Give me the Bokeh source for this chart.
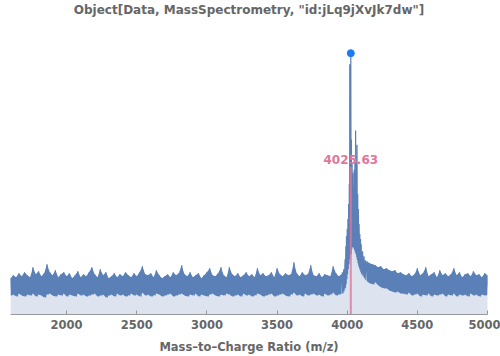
import numpy as np
from bokeh.plotting import figure
from bokeh.models import Range1d, ColumnDataSource
from bokeh.core.properties import value
from bokeh.embed import file_html
from bokeh.resources import INLINE

# ---- data ----
left_mz = np.arange(1600, 3961, 20)
left_hi = [3600, 3900, 3700, 4100, 3800, 4200, 3900, 3700, 4700, 4000,
           4300, 3800, 4100, 5000, 4200, 3900, 4400, 3700, 4000, 4200,
           3800, 4100, 3600, 3900, 4300, 3700, 4000, 3800, 4200, 4700,
           4000, 3700, 4500, 3900, 4200, 3600, 3800, 4100, 3700, 4000,
           3800, 4200, 3900, 3700, 4100, 3800, 4200, 4800, 4000, 3900,
           4100, 3700, 4400, 3900, 3600, 3800, 4000, 3700, 4200, 3900,
           4100, 4900, 4000, 3800, 4200, 3700, 3900, 4100, 3600, 3900,
           4200, 4600, 3900, 3800, 4100, 4700, 3900, 3700, 4700, 4000,
           3800, 4100, 3700, 3900, 4200, 3800, 4000, 3700, 4600, 3900,
           4100, 3800, 3900, 4200, 3700, 4600, 4000, 3800, 4100, 3900,
           4000, 5200, 4100, 3800, 4200, 3900, 4000, 4900, 3900, 3800,
           4100, 3700, 4000, 3900, 3800, 4800, 4100, 3800, 4000]
left_lo = [1900, 2000, 1800, 2100, 1900, 1800, 2000, 1900, 2100, 1800,
           2000, 1900, 1700, 2000, 2100, 1900, 1800, 2000, 1900, 2100,
           1800, 2000, 1900, 1800, 2100, 1900, 2000, 1800, 1900, 2000,
           2100, 1800, 1900, 2000, 1700, 1900, 2000, 1800, 2100, 1900,
           2000, 1800, 1900, 2100, 1900, 2000, 1800, 2200, 1900, 2000,
           1800, 1900, 2100, 2000, 1800, 1900, 2000, 2100, 1800, 1900,
           2000, 2100, 1900, 1800, 2000, 1900, 2100, 1800, 2000, 1900,
           1800, 2000, 2100, 1900, 1800, 2000, 1900, 2100, 2000, 1800,
           1900, 2000, 1800, 2100, 1900, 2000, 1800, 1900, 2100, 2000,
           1800, 1900, 2000, 2100, 1800, 1900, 2000, 2100, 1900, 1800,
           2000, 2200, 1900, 2000, 1800, 2100, 1900, 2000, 2100, 1900,
           2000, 1800, 2100, 1900, 2000, 2200, 1900, 2000, 2100]

peak_mz = [3965, 3975, 3985, 3990, 3995, 4000, 4005, 4010, 4015, 4018,
           4025.63, 4030, 4035, 4040, 4045, 4050, 4055, 4060, 4065, 4070,
           4075, 4080, 4085, 4090, 4095, 4100, 4110, 4120, 4130]
peak_hi = [4200, 4500, 5500, 6800, 7800, 8500, 9500, 11000, 13000, 24900,
           26000, 17400, 15000, 14100, 12500, 14400, 15500, 18300, 15000, 16900,
           12000, 10500, 9000, 8000, 7500, 7000, 6300, 5800, 5400]
peak_lo = [2100, 2300, 2600, 3000, 3500, 4000, 4500, 5000, 5500, 6000,
           6000, 6500, 6700, 6700, 6600, 6400, 6200, 6000, 5700, 5400,
           5100, 4800, 4600, 4400, 4200, 4000, 3800, 3600, 3400]

right_mz = np.arange(4140, 5001, 20)
right_hi = [5300, 5100, 5000, 4900, 4700, 4800, 4500, 4600, 4400, 4300,
            4400, 4100, 4200, 4000, 3900, 4100, 3800, 4000, 4600, 3900,
            4100, 4700, 3800, 4000, 4200, 3700, 4400, 3900, 4100, 3800,
            4000, 4600, 3900, 4200, 3700, 4000, 4100, 3800, 4300, 3900,
            4000, 3700, 4100, 3900]
right_lo = [3300, 3100, 3000, 3200, 2900, 2700, 2600, 2600, 2400, 2300,
            2200, 2300, 2100, 2100, 2000, 2200, 1900, 2000, 2100, 1800,
            2000, 1900, 2100, 1800, 2000, 1900, 2000, 2100, 1800, 2000,
            1900, 2100, 1800, 2000, 1900, 2000, 1800, 2100, 1900, 2000,
            1800, 2000, 1900, 2000]

peak_label_mz = 4025.63
peak_label = "4025.63"
peak_max = 26000
label_y = 15400
marker_top = 14700

xticks = [2000, 2500, 3000, 3500, 4000, 4500, 5000]

# ---- build the interleaved trace ----
xs, ys = [], []
for mz, hi, lo in zip(left_mz, left_hi, left_lo):
    xs += [float(mz), float(mz) + 10]
    ys += [hi, lo]
for mz, hi, lo in zip(peak_mz, peak_hi, peak_lo):
    xs += [mz, mz + 2.5]
    ys += [hi, lo]
for mz, hi, lo in zip(right_mz, right_hi, right_lo):
    xs += [float(mz), float(mz) + 10]
    ys += [hi, lo]
src = ColumnDataSource(dict(x=xs, y=ys, z=[0] * len(xs)))

FONT = "DejaVu Sans"
GREY = "#666666"
BLUE = "#5b80b8"

p = figure(width=500, height=356, output_backend="svg", toolbar_location=None,
           x_range=Range1d(1600, 5000), y_range=Range1d(0, 29650),
           y_axis_location=None, min_border_left=10, min_border_right=13,
           min_border_top=1, min_border_bottom=2)
p.title.text = 'Object[Data, MassSpectrometry, "id:jLq9jXvJk7dw"]'
p.title.align = "center"
p.title.text_font = FONT
p.title.text_font_size = "12px"
p.title.text_font_style = "bold"
p.title.text_color = GREY
p.title.standoff = 0
p.title.offset = 0
p.outline_line_color = None
p.xgrid.visible = False
p.ygrid.visible = False

p.varea(x="x", y1="z", y2="y", source=src, fill_color="#dee4ef")
# dense trace band (spread between low and high excursions)
p.varea(x=left_mz, y1=left_lo, y2=left_hi, fill_color=BLUE)
p.varea(x=right_mz, y1=right_lo, y2=right_hi, fill_color=BLUE)
p.line(x="x", y="y", source=src, line_color=BLUE, line_width=1.2)

p.segment(x0=[peak_label_mz], y0=[0], x1=[peak_label_mz], y1=[marker_top],
          line_color="#e0769a", line_width=2, line_alpha=0.8)
p.scatter(x=[peak_label_mz], y=[peak_max], size=7, fill_color="#1a7cf5",
          line_color="#1a7cf5")
p.text(x=[peak_label_mz], y=[label_y], text=[peak_label],
       text_font=value(FONT), text_font_size="12px", text_font_style="bold",
       text_color="#e0769a", text_align="center", text_baseline="middle")

ax = p.xaxis[0]
ax.ticker = xticks
ax.ticker.num_minor_ticks = 5
ax.axis_label = "Mass\u2013to\u2013Charge Ratio (m/z)"
ax.axis_label_text_font = FONT
ax.axis_label_text_font_size = "11.5px"
ax.axis_label_text_font_style = "bold"
ax.axis_label_text_color = GREY
ax.axis_label_standoff = 8
ax.major_label_text_font = FONT
ax.major_label_text_font_size = "11.5px"
ax.major_label_text_font_style = "bold"
ax.major_label_text_color = GREY
ax.major_label_standoff = 5
ax.axis_line_color = "#999999"
ax.major_tick_line_color = "#999999"
ax.minor_tick_line_color = "#999999"
ax.major_tick_in = 4
ax.major_tick_out = 0
ax.minor_tick_in = 2
ax.minor_tick_out = 0

open("out.html", "w").write(file_html(p, INLINE))
